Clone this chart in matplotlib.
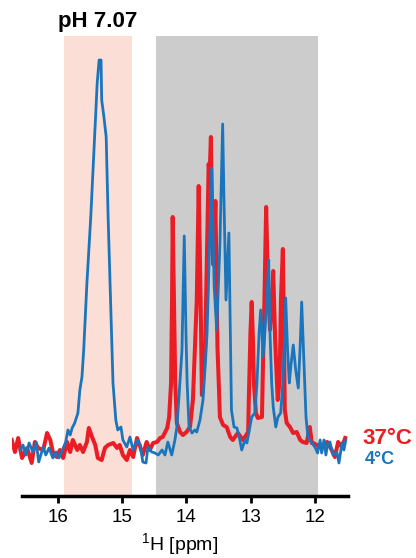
import numpy as np
import matplotlib
matplotlib.use("Agg")
import matplotlib.pyplot as plt

plt.rcParams['font.family'] = ['Liberation Sans', 'DejaVu Sans']
plt.rcParams['mathtext.default'] = 'regular'

# spectrum: chemical shift (ppm) and intensity (a.u.)
ppm_37 = [16.72, 16.67, 16.62, 16.56, 16.48, 16.41, 16.36, 16.31, 16.23, 16.17,
          16.12, 16.08, 16.02, 15.97, 15.92, 15.86, 15.81, 15.77, 15.70, 15.66,
          15.61, 15.55, 15.52, 15.47, 15.42, 15.38, 15.32, 15.27, 15.22, 15.14,
          15.08, 15.04, 14.99, 14.93, 14.88, 14.83, 14.77, 14.72, 14.68, 14.62,
          14.57, 14.52, 14.46, 14.41, 14.37, 14.30, 14.27, 14.24, 14.225, 14.215,
          14.195, 14.175, 14.15, 14.10, 14.055, 14.00, 13.945, 13.90, 13.87, 13.84,
          13.81, 13.78, 13.76, 13.71, 13.68, 13.655, 13.64, 13.62, 13.595, 13.58,
          13.55, 13.518, 13.49, 13.48, 13.43, 13.375, 13.32, 13.28, 13.20, 13.12,
          13.04, 13.03, 13.005, 12.985, 12.965, 12.95, 12.92, 12.89, 12.825, 12.81,
          12.787, 12.76, 12.73, 12.70, 12.67, 12.65, 12.62, 12.58, 12.55, 12.53,
          12.50, 12.483, 12.47, 12.44, 12.39, 12.34, 12.285, 12.23, 12.19, 12.13,
          12.08, 12.05, 12.03, 11.97, 11.92, 11.88, 11.845, 11.81, 11.74, 11.69,
          11.64, 11.58, 11.53]
int_37 = [5, -7, 7, -13, -3, -18, 3, -3, -5, 12,
          5, -7, -12, -5, -13, 3, -7, 5, -5, 0,
          -7, 3, 17, 8, 0, -13, -15, -3, 0, 2,
          -3, 0, -10, -15, -5, -12, 7, -2, -10, 3,
          -5, 2, 3, 7, 8, 17, 28, 62, 145, 228,
          145, 62, 22, 13, 10, 13, 18, 45, 95, 145,
          259, 145, 50, 95, 195, 281, 270, 308, 195, 180,
          244, 98, 48, 28, 20, 18, 8, 5, 12, 5,
          13, 45, 112, 143, 105, 62, 32, 27, 28, 78,
          145, 238, 155, 115, 145, 174, 105, 45, 65, 145,
          196, 115, 35, 22, 18, 12, 13, 5, 3, 2,
          18, 2, 2, 0, -2, 0, 2, 3, -5, -12,
          3, -2, 7]

ppm_4 = [16.59, 16.545, 16.50, 16.45, 16.39, 16.34, 16.30, 16.23, 16.19, 16.14,
         16.08, 16.03, 15.985, 15.92, 15.88, 15.845, 15.81, 15.78, 15.74, 15.69,
         15.66, 15.627, 15.60, 15.55, 15.49, 15.44, 15.39, 15.36, 15.33, 15.32,
         15.285, 15.25, 15.22, 15.175, 15.144, 15.10, 15.07, 15.02, 14.99, 14.93,
         14.88, 14.83, 14.77, 14.72, 14.68, 14.63, 14.60, 14.54, 14.49, 14.44,
         14.38, 14.335, 14.29, 14.23, 14.18, 14.15, 14.12, 14.07, 14.055, 14.035,
         14.008, 13.99, 13.96, 13.915, 13.87, 13.84, 13.79, 13.743, 13.71, 13.68,
         13.665, 13.608, 13.57, 13.53, 13.48, 13.437, 13.417, 13.385, 13.34, 13.315,
         13.30, 13.26, 13.215, 13.17, 13.14, 13.09, 13.06, 13.03, 12.985, 12.935,
         12.903, 12.87, 12.845, 12.825, 12.81, 12.78, 12.75, 12.72, 12.70, 12.674,
         12.65, 12.61, 12.576, 12.534, 12.50, 12.48, 12.456, 12.43, 12.40, 12.374,
         12.338, 12.30, 12.26, 12.23, 12.207, 12.17, 12.14, 12.11, 12.05, 12.00,
         11.96, 11.92, 11.896, 11.86, 11.83, 11.80, 11.767, 11.72, 11.66, 11.627,
         11.58, 11.55, 11.52]
int_4 = [-5, 0, -10, 2, -7, 3, -17, -2, -10, -3,
         -13, -7, -13, -3, 3, 15, 10, 17, 22, 32,
         55, 68, 95, 162, 228, 295, 362, 385, 385, 345,
         328, 308, 228, 128, 62, 25, 15, 18, 5, -2,
         8, -5, 5, 0, -17, -18, -2, -7, -8, -10,
         -5, -10, 3, -10, 5, 18, 45, 95, 145, 209,
         112, 62, 18, 12, 15, 13, 25, 45, 78, 112,
         145, 277, 160, 115, 200, 321, 247, 145, 212, 100,
         35, 18, 17, 5, -5, 5, 2, 12, 28, 32,
         62, 112, 135, 112, 88, 112, 145, 185, 112, 62,
         38, 18, 28, 32, 62, 95, 147, 100, 62, 80,
         100, 75, 57, 100, 143, 78, 28, 8, 2, -2,
         -8, 5, -8, 5, -10, 2, 3, -10, -7, -18,
         2, -5, 5]

series_labels = ['37\u00b0C', '4\u00b0C']
imino_band = (15.91, 14.85)
gc_au_band = (14.48, 11.95)
xticks = [16, 15, 14, 13, 12]

red = '#ec1c24'
blue = '#1b75bc'

fig = plt.figure(figsize=(4.16, 5.58), dpi=100)
ax = fig.add_axes([12 / 416, 62 / 558, 336 / 416, 460 / 558])

ax.axvspan(*imino_band, color='#fbdfd6', lw=0, zorder=0)
ax.axvspan(*gc_au_band, color='#cccccc', lw=0, zorder=0)

ax.plot(ppm_37, int_37, color=red, lw=2.9, zorder=2)
ax.plot(ppm_4, int_4, color=blue, lw=2.0, zorder=3)

ax.set_xlim(16.716, 11.486)
ax.set_ylim(-51, 409)

for s in ['left', 'right', 'top']:
    ax.spines[s].set_visible(False)
ax.spines['bottom'].set_linewidth(2.5)
ax.spines['bottom'].set_bounds(16.56, 11.486)
ax.set_yticks([])
ax.set_xticks(xticks)
ax.tick_params(axis='x', length=5, width=2, labelsize=13.5, pad=4)
ax.set_xlabel('$^{1}$H [ppm]', fontsize=14, labelpad=4)

fig.text(58 / 416, 1 - 22 / 558, 'pH 7.07', fontsize=16, fontweight='bold',
         ha='left', va='center')
fig.text(362 / 416, 1 - 439 / 558, series_labels[0], color=red, fontsize=16,
         fontweight='bold', ha='left', va='center')
fig.text(365 / 416, 1 - 459 / 558, series_labels[1], color=blue, fontsize=13,
         fontweight='bold', ha='left', va='center')

fig.savefig('out.png', dpi=100)
